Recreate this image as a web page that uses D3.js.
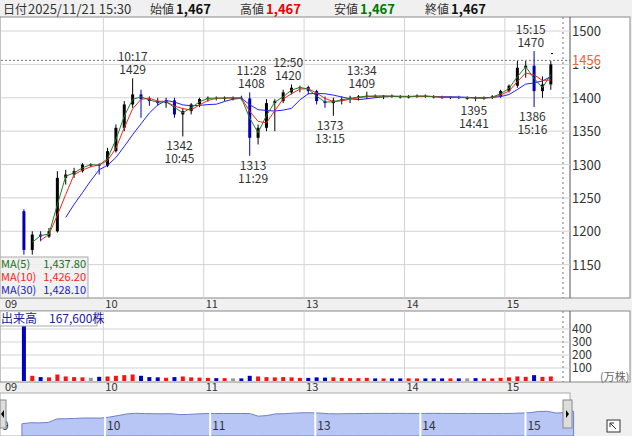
<!DOCTYPE html>
<html><head><meta charset="utf-8">
<script src="https://cdn.jsdelivr.net/npm/d3@7/dist/d3.min.js"></script>
<style>body{margin:0;background:#f0f0f0;}svg{display:block;font-family:"Noto Sans CJK JP","Noto Sans",sans-serif;}</style>
</head><body><svg id="c" width="632" height="436"></svg>
<script>
const times=["09:10","09:15","09:20","09:25","09:30","09:35","09:40","09:45","09:50","09:55","10:00","10:05","10:10","10:15","10:20","10:25","10:30","10:35","10:40","10:45","10:50","10:55","11:00","11:05","11:10","11:15","11:20","11:25","12:30","12:35","12:40","12:45","12:50","12:55","13:00","13:05","13:10","13:15","13:20","13:25","13:30","13:35","13:40","13:45","13:50","13:55","14:00","14:05","14:10","14:15","14:20","14:25","14:30","14:35","14:40","14:45","14:50","14:55","15:00","15:05","15:10","15:15","15:20","15:25"];
const opens =[1230,1172,1195,1192,1200,1280,1285,1290,1300,1300,1298,1320,1355,1390,1405,1398,1395,1392,1396,1375,1380,1390,1398,1400,1399,1400,1400,1399,1340,1355,1392,1395,1408,1415,1416,1410,1395,1392,1396,1398,1400,1402,1403,1402,1403,1402,1401,1402,1403,1402,1401,1400,1401,1400,1400,1399,1400,1402,1410,1418,1445,1448,1410,1420];
const highs =[1233,1200,1200,1205,1290,1292,1295,1302,1302,1302,1325,1360,1395,1429,1412,1402,1400,1400,1400,1385,1392,1400,1402,1402,1402,1402,1403,1408,1360,1398,1398,1412,1420,1418,1418,1412,1402,1400,1402,1403,1404,1409,1405,1404,1405,1404,1404,1405,1405,1404,1403,1402,1403,1402,1402,1402,1404,1412,1420,1455,1455,1470,1432,1455];
const lows  =[1165,1165,1185,1190,1198,1270,1280,1288,1296,1285,1296,1318,1350,1385,1370,1388,1388,1385,1370,1342,1375,1386,1394,1396,1395,1396,1396,1313,1330,1350,1350,1392,1405,1408,1405,1390,1385,1373,1390,1392,1396,1398,1400,1398,1400,1399,1399,1400,1400,1399,1398,1398,1398,1397,1395,1397,1398,1400,1408,1415,1430,1386,1400,1412];
const closes=[1172,1195,1192,1200,1280,1285,1290,1300,1300,1298,1320,1355,1390,1405,1398,1395,1392,1396,1375,1380,1390,1398,1400,1399,1400,1400,1399,1340,1355,1392,1395,1408,1415,1416,1410,1395,1392,1396,1398,1400,1402,1403,1402,1403,1402,1401,1402,1403,1402,1401,1400,1401,1400,1400,1399,1400,1402,1410,1418,1445,1448,1410,1420,1450];
const volumes=[600,40,30,28,50,35,30,28,25,32,35,40,45,50,40,30,28,25,30,35,28,26,24,22,22,20,20,40,35,30,28,30,28,24,24,28,26,28,24,22,22,24,20,20,20,20,20,20,20,20,20,20,20,20,22,20,20,24,28,35,32,45,32,35];
const priceTicks=[1150,1200,1250,1300,1350,1400,1450,1500];
const volTicks=[100,200,300,400];
const hourTicks=[["09","09:00"],["10","10:00"],["11","11:00"],["13","13:00"],["14","14:00"],["15","15:00"]];
const annotations=[["10:17",1429,"up"],["10:45",1342,"down"],["11:28",1408,"up"],["11:29",1313,"down"],["12:50",1420,"up"],["13:15",1373,"down"],["13:34",1409,"up"],["14:41",1395,"down"],["15:15",1470,"up"],["15:16",1386,"down"]];
const closeTime="15:30", closePrice=1467, lastPrice=1456;

function mins(t){const [h,m]=t.split(":").map(Number);let v=(h-9)*60+m;if(v>=210)v-=60;return v;}
const svg=d3.select("#c");
const X=d3.scaleLinear().domain([0,330]).range([3,555]);
const Y=d3.scaleLinear().domain([1100,1521]).range([298,17]);
const VY=d3.scaleLinear().domain([0,400]).range([381,329]);
const NX=d3.scaleLinear().domain([0,330]).range([0,578]);
const NY=d3.scaleLinear().domain([1100,1500]).range([427,409]);
const data=times.map((t,i)=>({m:mins(t)+2.5,o:opens[i],h:highs[i],l:lows[i],c:closes[i],v:volumes[i]}));

svg.append("rect").attr("x",0).attr("y",0).attr("width",632).attr("height",436).attr("fill","#f0f0f0");
svg.append("rect").attr("x",0).attr("y",17).attr("width",630).attr("height",281).attr("fill","#fff").attr("stroke","#888");
svg.append("rect").attr("x",0).attr("y",311).attr("width",630).attr("height",71).attr("fill","#fff").attr("stroke","#888");
svg.append("rect").attr("x",0).attr("y",393).attr("width",570).attr("height",43).attr("fill","#fff").attr("stroke","#aaa");
[[570,17,298],[570,311,382]].forEach(([x,a,b])=>svg.append("line").attr("x1",x).attr("x2",x).attr("y1",a).attr("y2",b).attr("stroke","#555"));

const hd=svg.append("g");
[["日付",3,"#333",12],["2025/11/21 15:30",28,"#333",13],["始値",150,"#333",12],["1,467",176,"#111",13,"bold"],["高値",240,"#333",12],["1,467",266,"#e00",13,"bold"],["安値",334,"#333",12],["1,467",360,"#070",13,"bold"],["終値",425,"#333",12],["1,467",451,"#111",13,"bold"]]
.forEach(([t,x,c,s,w])=>hd.append("text").attr("x",x).attr("y",14).attr("fill",c).attr("font-size",s).attr("font-weight",w||"normal").text(t));

const g=svg.append("g").attr("stroke","#d3d3d3");
priceTicks.forEach(p=>g.append("line").attr("x1",1).attr("x2",570).attr("y1",Y(p)).attr("y2",Y(p)));
hourTicks.slice(1).forEach(([l,t])=>{g.append("line").attr("x1",X(mins(t))).attr("x2",X(mins(t))).attr("y1",17).attr("y2",298);
 g.append("line").attr("x1",X(mins(t))).attr("x2",X(mins(t))).attr("y1",311).attr("y2",382);});
volTicks.forEach(v=>g.append("line").attr("x1",1).attr("x2",570).attr("y1",VY(v)).attr("y2",VY(v)));
svg.append("line").attr("x1",563).attr("x2",563).attr("y1",17).attr("y2",298).attr("stroke","#777").attr("stroke-dasharray","2,3");
svg.append("line").attr("x1",563).attr("x2",563).attr("y1",311).attr("y2",382).attr("stroke","#777").attr("stroke-dasharray","2,3");
svg.append("line").attr("x1",1).attr("x2",570).attr("y1",Y(lastPrice)).attr("y2",Y(lastPrice)).attr("stroke","#777").attr("stroke-dasharray","2,2");

const ax=svg.append("g").attr("font-size",13).attr("fill","#333");
priceTicks.forEach(p=>ax.append("text").attr("x",572).attr("y",Y(p)+5).text(p));
ax.append("rect").attr("x",571).attr("y",Y(lastPrice)-7).attr("width",30).attr("height",13).attr("fill","#fff");
ax.append("text").attr("x",572).attr("y",Y(lastPrice)+5).attr("fill","#f06030").text(lastPrice);
volTicks.forEach(v=>ax.append("text").attr("x",572).attr("y",VY(v)+4).attr("font-size",12).text(v));
ax.append("text").attr("x",600).attr("y",381).attr("font-size",11).attr("fill","#666").text("(万株)");
hourTicks.forEach(([l,t])=>{const x=X(mins(t));ax.append("text").attr("x",x+2).attr("y",308).attr("font-size",11).text(l);
 ax.append("text").attr("x",x+2).attr("y",391).attr("font-size",11).text(l);});

// candles
const cg=svg.append("g");
data.forEach(d=>{const col=d.c>=d.o?"#000":"#0000b0";const x=X(d.m);
 cg.append("line").attr("x1",x).attr("x2",x).attr("y1",Y(d.h)).attr("y2",Y(d.l)).attr("stroke",col);
 cg.append("rect").attr("x",x-1.5).attr("width",3).attr("y",Y(Math.max(d.o,d.c))).attr("height",Math.max(1,Math.abs(Y(d.o)-Y(d.c)))).attr("fill",col);});
cg.append("rect").attr("x",X(mins(closeTime))-4).attr("y",Y(closePrice)).attr("width",2).attr("height",1).attr("fill","#000");

// MAs (drawn over candles)
function ma(n){return data.map((d,i)=>i<n-1?null:{m:d.m,v:d3.mean(data.slice(i-n+1,i+1),e=>e.c)}).filter(Boolean);}
const line=d3.line().x(d=>X(d.m)).y(d=>Y(d.v));
[[6,"#2020ff"],[3,"#ff2020"],[2,"#208020"]].forEach(([n,c])=>{
 svg.append("path").attr("d",line(ma(n))).attr("fill","none").attr("stroke",c).attr("stroke-width",1);});

const an=svg.append("g").attr("font-size",12).attr("fill","#333").attr("text-anchor","middle");
annotations.forEach(([t,p,dir])=>{const x=X(mins(t)+0.5);
 if(dir==="up"){an.append("text").attr("x",x).attr("y",Y(p)-17).text(t);an.append("text").attr("x",x).attr("y",Y(p)-4).text(p);}
 else{an.append("text").attr("x",x).attr("y",Y(p)+14).text(p);an.append("text").attr("x",x).attr("y",Y(p)+27).text(t);}});

const lg=svg.append("g").attr("font-size",11);
lg.append("rect").attr("x",0).attr("y",257).attr("width",88).attr("height",41).attr("fill","#eee").attr("fill-opacity",0.85).attr("stroke","#aaa");
[["MA(5)","1,437.80","#207020"],["MA(10)","1,426.20","#ff2020"],["MA(30)","1,428.10","#2020d0"]].forEach(([a,b,c],i)=>{
 lg.append("text").attr("x",1).attr("y",268+i*13).attr("fill",c).text(a);
 lg.append("text").attr("x",86).attr("y",268+i*13).attr("fill",c).attr("text-anchor","end").text(b);});

data.forEach((d,i)=>{const col=d.c>d.o?"#ff1010":d.c<d.o?"#0000c0":"#999";
 svg.append("rect").attr("x",X(d.m)-2).attr("width",4).attr("y",Math.max(313,VY(d.v))).attr("height",381-Math.max(313,VY(d.v))).attr("fill",col);});
svg.append("rect").attr("x",0).attr("y",311).attr("width",97).attr("height",15).attr("fill","#fff").attr("stroke","#aaa");
svg.append("text").attr("x",1).attr("y",323).attr("font-size",12).attr("fill","#2020a0").text("出来高　167,600株");

const area=d3.area().x(d=>NX(d.m)).y0(436).y1(d=>NY(d.c));
svg.append("path").attr("d",area(data)).attr("fill","#b8c6f6").attr("stroke","#7080c8");
hourTicks.forEach(([l,t],i)=>{const x=NX(mins(t));if(i)svg.append("line").attr("x1",x).attr("x2",x).attr("y1",405).attr("y2",436).attr("stroke","#fff").attr("stroke-width",2);
 svg.append("text").attr("x",x+2).attr("y",430).attr("font-size",12).attr("fill","#333").text(i?l:"9");});
[[0,6,"M4,410 L1,414 L4,418Z"],[563,9,"M566,410 L569,414 L566,418Z"]].forEach(([x,w,p])=>{
 svg.append("rect").attr("x",x).attr("y",400).attr("width",w).attr("height",28).attr("fill","#ddd").attr("stroke","#888");
 svg.append("path").attr("d",p).attr("fill","#000");});
svg.append("rect").attr("x",607).attr("y",420).attr("width",13).attr("height",12).attr("fill","#fff").attr("stroke","#333");
svg.append("path").attr("d","M610,423 L616,429 M610,423 L614,423 M610,423 L610,427").attr("stroke","#333");
</script></body></html>
